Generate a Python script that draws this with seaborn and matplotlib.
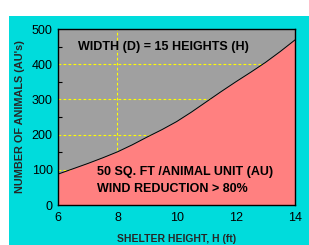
import matplotlib
matplotlib.use("Agg")
import matplotlib.pyplot as plt
import seaborn as sns
import pandas as pd
from matplotlib.patches import Rectangle

# data
height_ft = [6, 6.5, 7, 7.5, 8, 8.5, 9, 9.5, 10, 10.5, 11, 11.5, 12, 12.5, 13, 13.5, 14]
animals = [88, 103, 118, 134, 151, 171, 193, 214, 237, 264, 293, 322, 350, 377, 405, 436, 469]
x_ticks = [6, 8, 10, 12, 14]
y_ticks = [0, 100, 200, 300, 400, 500]
h_grid = [100, 200, 300, 400]
v_grid = [8]

df = pd.DataFrame({"H": height_ft, "N": animals})

sns.set_theme(style="ticks")
plt.rcParams['font.family'] = ['Liberation Sans', 'DejaVu Sans']

fig = plt.figure(figsize=(3.09, 2.45), dpi=100)
fig.patch.set_facecolor("white")
bg = Rectangle((9 / 309, 0), 300 / 309, 229 / 245, transform=fig.transFigure,
               facecolor="#00DCDC", edgecolor="none", zorder=-10)
fig.add_artist(bg)

ax = fig.add_axes([58.3 / 309, 40 / 245, (295 - 58.3) / 309, 176 / 245])
ax.set_zorder(5)
ax.set_facecolor("#A0A0A0")

for y in h_grid:
    ax.axhline(y, color="#FFFF00", lw=0.8, ls=(0, (2.5, 2)), zorder=1)
for x in v_grid:
    ax.axvline(x, color="#FFFF00", lw=0.8, ls=(0, (2.5, 2)), zorder=1)

ax.fill_between(df["H"], 0, df["N"], color="#FF8080", lw=0, zorder=2)
sns.lineplot(data=df, x="H", y="N", color="black", lw=0.7, ax=ax, zorder=3)

ax.set_xlim(6, 14)
ax.set_ylim(0, 500)
ax.set_xticks(x_ticks)
ax.set_yticks(y_ticks)
ax.set_yticks([50, 150, 250, 350, 450], minor=True)
ax.tick_params(axis="both", which="major", length=0, labelsize=9, colors="black")
ax.tick_params(axis="x", which="major", pad=5)
ax.tick_params(axis="y", which="major", pad=4)
ax.tick_params(axis="y", which="minor", length=3, direction="in", width=0.8, color="black")
for s in ax.spines.values():
    s.set_color("black")
    s.set_linewidth(1)

ax.set_xlabel("SHELTER HEIGHT, H (ft)", fontsize=7.5, fontweight="bold", labelpad=7)
ax.set_ylabel("NUMBER OF ANIMALS (AU's)", fontsize=7.8, fontweight="bold", labelpad=5)

ax.text(9.57, 450, "WIDTH (D) = 15 HEIGHTS (H)", ha="center", va="center",
        fontsize=9, fontweight="bold", color="black", zorder=4)
ax.text(7.3, 95, "50 SQ. FT /ANIMAL UNIT (AU)", ha="left", va="center",
        fontsize=9, fontweight="bold", color="black", zorder=4)
ax.text(7.3, 45, "WIND REDUCTION > 80%", ha="left", va="center",
        fontsize=9, fontweight="bold", color="black", zorder=4)

fig.savefig("out.png", dpi=100, facecolor=fig.get_facecolor())
